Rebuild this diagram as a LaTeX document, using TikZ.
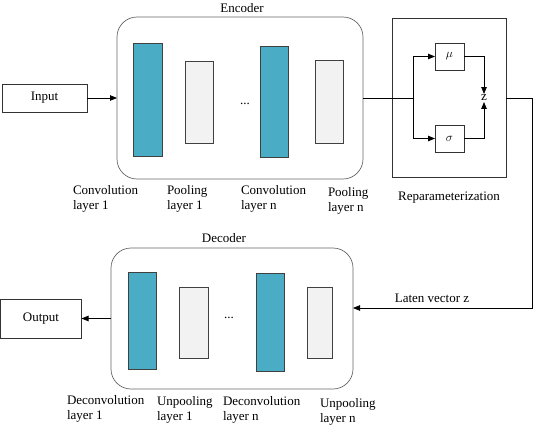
\documentclass[tikz,border=0pt]{standalone}
\usepackage{fontspec}
\setmainfont{Liberation Serif}
\usetikzlibrary{arrows.meta}
\definecolor{teal1}{HTML}{4BACC6}
\definecolor{lgray}{HTML}{F2F2F2}
\begin{document}
\begin{tikzpicture}[x=1pt,y=-1pt,
  font=\fontsize{13}{15.5}\selectfont,
  every node/.style={inner sep=0pt, outer sep=0pt},
  plain/.style={draw=black!80, line width=0.7pt, fill=white},
  group/.style={draw=black!60, line width=0.7pt, rounded corners=20pt},
  conv/.style={draw=black!75, line width=0.7pt, fill=teal1},
  pool/.style={draw=black!75, line width=0.7pt, fill=lgray},
  lbl/.style={anchor=north west, align=left},
  conn/.style={draw=black, line width=0.8pt},
  arr/.style={conn, -{Triangle[length=7pt,width=5.5pt]}}
]
\useasboundingbox (0,0) rectangle (533,426);
% Encoder
\node[plain, minimum width=85, minimum height=28] (input) at (44.5,98) {Input};
\node[group, minimum width=246, minimum height=162] (enc) at (240,98) {};
\node (enctitle) at (242,8) {Encoder};
\node[conv, minimum width=29, minimum height=113] (conv1) at (147.5,99.5) {};
\node[pool, minimum width=28, minimum height=82] (pool1) at (199,102) {};
\node (edots) at (245,104) {...};
\node[conv, minimum width=28, minimum height=111] (convn) at (274,101.5) {};
\node[pool, minimum width=28, minimum height=83] (pooln) at (329,101.5) {};
\node[lbl] (l1) at (73,185) {Convolution\\layer 1};
\node[lbl] (l2) at (167,185) {Pooling\\layer 1};
\node[lbl] (l3) at (241,185) {Convolution\\layer n};
\node[lbl] (l4) at (328,187) {Pooling\\layer n};
\draw[arr] (input.east) -- (enc.west);
% Reparameterization
\node[plain, fill=none, minimum width=114, minimum height=159] (rep) at (449,97.5) {};
\node[plain, minimum width=29, minimum height=27] (mu) at (449.5,56.5) {$\mu$};
\node[plain, minimum width=29, minimum height=27] (sigma) at (449.5,138.5) {$\sigma$};
\node[inner sep=1pt] (z) at (484,98) {z};
\node (replbl) at (449,198) {Reparameterization};
\coordinate (br) at (413,98);
\draw[conn] (enc.east |- br) -- (br);
\draw[arr] (br) |- (mu.west);
\draw[arr] (br) |- (sigma.west);
\draw[arr] (mu.east) -| (z.north);
\draw[arr] (sigma.east) -| (z.south);
% Decoder
\node[group, minimum width=242, minimum height=141] (dec) at (232,318.5) {};
\node (dectitle) at (224,238) {Decoder};
\node[plain, minimum width=81, minimum height=39] (output) at (41,318.5) {Output};
\node[conv, minimum width=28, minimum height=97] (dconv1) at (142,320.5) {};
\node[pool, minimum width=29, minimum height=71] (upool1) at (193.5,322.5) {};
\node (ddots) at (229,318) {...};
\node[conv, minimum width=28, minimum height=98] (dconvn) at (270,322) {};
\node[pool, minimum width=25, minimum height=71] (upooln) at (319.5,322.5) {};
\node[lbl] (m1) at (67,395) {Deconvolution\\layer 1};
\node[lbl] (m2) at (157,396) {Unpooling\\layer 1};
\node[lbl] (m3) at (223,396) {Deconvolution\\layer n};
\node[lbl] (m4) at (320,398) {Unpooling\\layer n};
\draw[arr] (dec.west) -- (output.east);
% Latent connection
\coordinate (c1) at (532,98);
\coordinate (c2) at (532,308);
\node (latlbl) at (432,298) {Laten vector z};
\draw[arr] (rep.east |- c1) -- (c1) -- (c2) -- (dec.east |- c2);
\end{tikzpicture}
\end{document}
